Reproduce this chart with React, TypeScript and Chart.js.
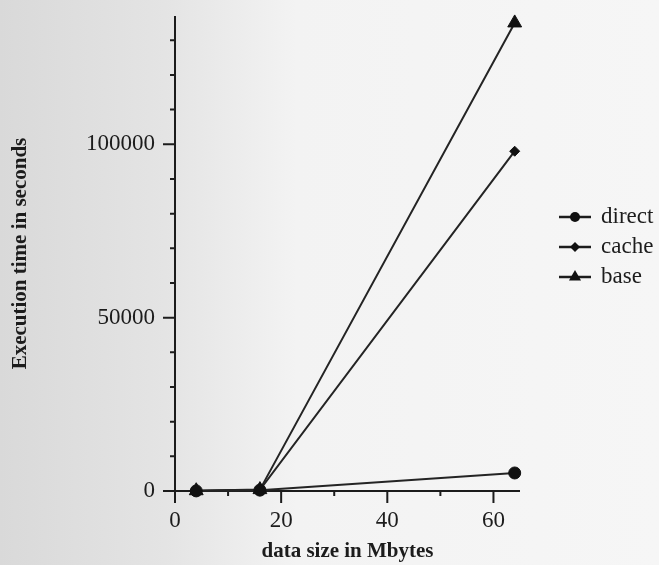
import React, { useEffect, useRef } from 'react';
import { Chart, registerables } from 'chart.js';

Chart.register(...registerables);

// ---- data ----
const xValues = [4, 16, 64];
const seriesLabels = ['direct', 'cache', 'base'];
const directValues = [30, 250, 5200];
const cacheValues = [60, 350, 98000];
const baseValues = [80, 400, 135000];
const xTickValues = [0, 10, 20, 30, 40, 50, 60];
const xMajorLabels = [0, 20, 40, 60];
const yTickValues = [0, 10000, 20000, 30000, 40000, 50000, 60000, 70000, 80000, 90000, 100000, 110000, 120000, 130000];
const yMajorLabels = [0, 50000, 100000];

// ---- styles ----
const pointStyles = ['circle', 'rectRot', 'triangle'];
const pointRadii = [6, 5, 8];
const legendRadii = [5, 5, 7];
const INK = '#1c1c1c';
const SERIF = "'Liberation Serif', 'Times New Roman', serif";

const paperPlugin = {
  id: 'paper',
  beforeDraw(chart: any) {
    const { ctx, width, height } = chart;
    ctx.save();
    const g = ctx.createLinearGradient(0, 0, width, 0);
    g.addColorStop(0, '#d9d9d9');
    g.addColorStop(0.25, '#e4e4e4');
    g.addColorStop(0.45, '#f3f3f3');
    g.addColorStop(1, '#f6f6f6');
    ctx.fillStyle = g;
    ctx.fillRect(0, 0, width, height);
    ctx.restore();
  },
};

const isMajor = (v: number, list: number[]) => list.some((m) => Math.abs(m - v) < 1e-6);

const axesPlugin = {
  id: 'axesDraw',
  beforeDatasetsDraw(chart: any) {
    const { ctx, chartArea } = chart;
    const xs = chart.scales.x;
    const ys = chart.scales.y;
    const x0 = chartArea.left;
    const y0 = chartArea.bottom;
    ctx.save();
    ctx.strokeStyle = INK;
    ctx.lineWidth = 2;
    ctx.lineCap = 'butt';
    ctx.beginPath();
    ctx.moveTo(x0, chartArea.top);
    ctx.lineTo(x0, y0);
    ctx.moveTo(x0, y0);
    ctx.lineTo(chartArea.right, y0);
    ctx.stroke();
    ctx.beginPath();
    xTickValues.forEach((v) => {
      const px = xs.getPixelForValue(v);
      const len = isMajor(v, xMajorLabels) ? 12 : 5;
      ctx.moveTo(px, y0);
      ctx.lineTo(px, y0 + len);
    });
    yTickValues.forEach((v) => {
      const py = ys.getPixelForValue(v);
      const len = isMajor(v, yMajorLabels) ? 12 : 5;
      ctx.moveTo(x0, py);
      ctx.lineTo(x0 - len, py);
    });
    ctx.stroke();
    ctx.restore();
  },
};

const legendPlugin = {
  id: 'sideLegend',
  afterDraw(chart: any) {
    const { ctx, chartArea } = chart;
    const lx = chartArea.right + 39;
    const top = 217;
    const gap = 30;
    ctx.save();
    chart.data.datasets.forEach((ds: any, i: number) => {
      const y = top + i * gap;
      ctx.strokeStyle = INK;
      ctx.lineWidth = 2.5;
      ctx.beginPath();
      ctx.moveTo(lx, y);
      ctx.lineTo(lx + 32, y);
      ctx.stroke();
      const cx = lx + 16;
      const r = legendRadii[i];
      ctx.fillStyle = '#111';
      ctx.beginPath();
      if (pointStyles[i] === 'circle') {
        ctx.arc(cx, y, r, 0, Math.PI * 2);
      } else if (pointStyles[i] === 'rectRot') {
        ctx.moveTo(cx, y - r);
        ctx.lineTo(cx + r, y);
        ctx.lineTo(cx, y + r);
        ctx.lineTo(cx - r, y);
        ctx.closePath();
      } else {
        const h = r * 1.5;
        const w = (r * Math.sqrt(3)) / 2;
        ctx.moveTo(cx, y - (h * 2) / 3);
        ctx.lineTo(cx + w, y + h / 3);
        ctx.lineTo(cx - w, y + h / 3);
        ctx.closePath();
      }
      ctx.fill();
      ctx.fillStyle = INK;
      ctx.font = `23px ${SERIF}`;
      ctx.textAlign = 'left';
      ctx.textBaseline = 'middle';
      ctx.fillText(ds.label, lx + 42, y);
    });
    ctx.restore();
  },
};

export default function App() {
  const ref = useRef<HTMLCanvasElement>(null);
  useEffect(() => {
    document.body.style.margin = '0';
    const canvas = ref.current!;
    const datasets = [directValues, cacheValues, baseValues].map((vals, i) => ({
      label: seriesLabels[i],
      data: xValues.map((x, j) => ({ x, y: vals[j] })),
      borderColor: '#242424',
      backgroundColor: '#111',
      borderWidth: 2,
      pointStyle: pointStyles[i],
      pointRadius: pointRadii[i],
      pointBorderWidth: 1,
      pointBorderColor: '#111',
      pointBackgroundColor: '#111',
      tension: 0,
      fill: false,
      clip: false,
    }));
    const chart = new Chart(canvas, {
      type: 'line',
      data: { datasets },
      options: {
        animation: false,
        responsive: false,
        devicePixelRatio: 1,
        layout: { padding: { top: 16, right: 139, left: 0, bottom: 0 } },
        plugins: { legend: { display: false }, tooltip: { enabled: false } },
        scales: {
          x: {
            type: 'linear',
            min: 0,
            max: 65,
            afterBuildTicks: (s: any) => { s.ticks = xTickValues.map((value) => ({ value })); },
            ticks: {
              autoSkip: false,
              maxRotation: 0,
              padding: 4,
              color: INK,
              font: { family: SERIF, size: 23 },
              callback: (v: any) => (isMajor(v, xMajorLabels) ? String(v) : null),
            },
            grid: { display: true, drawOnChartArea: false, drawTicks: true, tickLength: 12, tickColor: 'rgba(0,0,0,0)' },
            border: { display: false },
            title: {
              display: true,
              text: 'data size in Mbytes',
              color: INK,
              font: { family: SERIF, size: 21, weight: 'bold' },
              padding: { top: 0, bottom: 1 },
            },
            afterFit: (s: any) => { s.height = 74; s.paddingLeft = 0; s.paddingRight = 0; },
          },
          y: {
            type: 'linear',
            min: 0,
            max: 137000,
            afterBuildTicks: (s: any) => { s.ticks = yTickValues.map((value) => ({ value })); },
            ticks: {
              autoSkip: false,
              padding: 8,
              color: INK,
              font: { family: SERIF, size: 23 },
              callback: (v: any) => (isMajor(v, yMajorLabels) ? String(v) : null),
            },
            grid: { display: true, drawOnChartArea: false, drawTicks: true, tickLength: 12, tickColor: 'rgba(0,0,0,0)' },
            border: { display: false },
            title: {
              display: true,
              text: 'Execution time in seconds',
              color: INK,
              font: { family: SERIF, size: 21, weight: 'bold' },
              padding: { top: 8, bottom: 0 },
            },
            afterFit: (s: any) => { s.width = 175; s.paddingTop = 0; s.paddingBottom = 0; },
          },
        },
      } as any,
      plugins: [paperPlugin, axesPlugin, legendPlugin],
    } as any);
    return () => chart.destroy();
  }, []);
  return (
    <div style={{ width: 659, height: 565 }}>
      <canvas ref={ref} width={659} height={565} style={{ display: 'block' }} />
    </div>
  );
}
